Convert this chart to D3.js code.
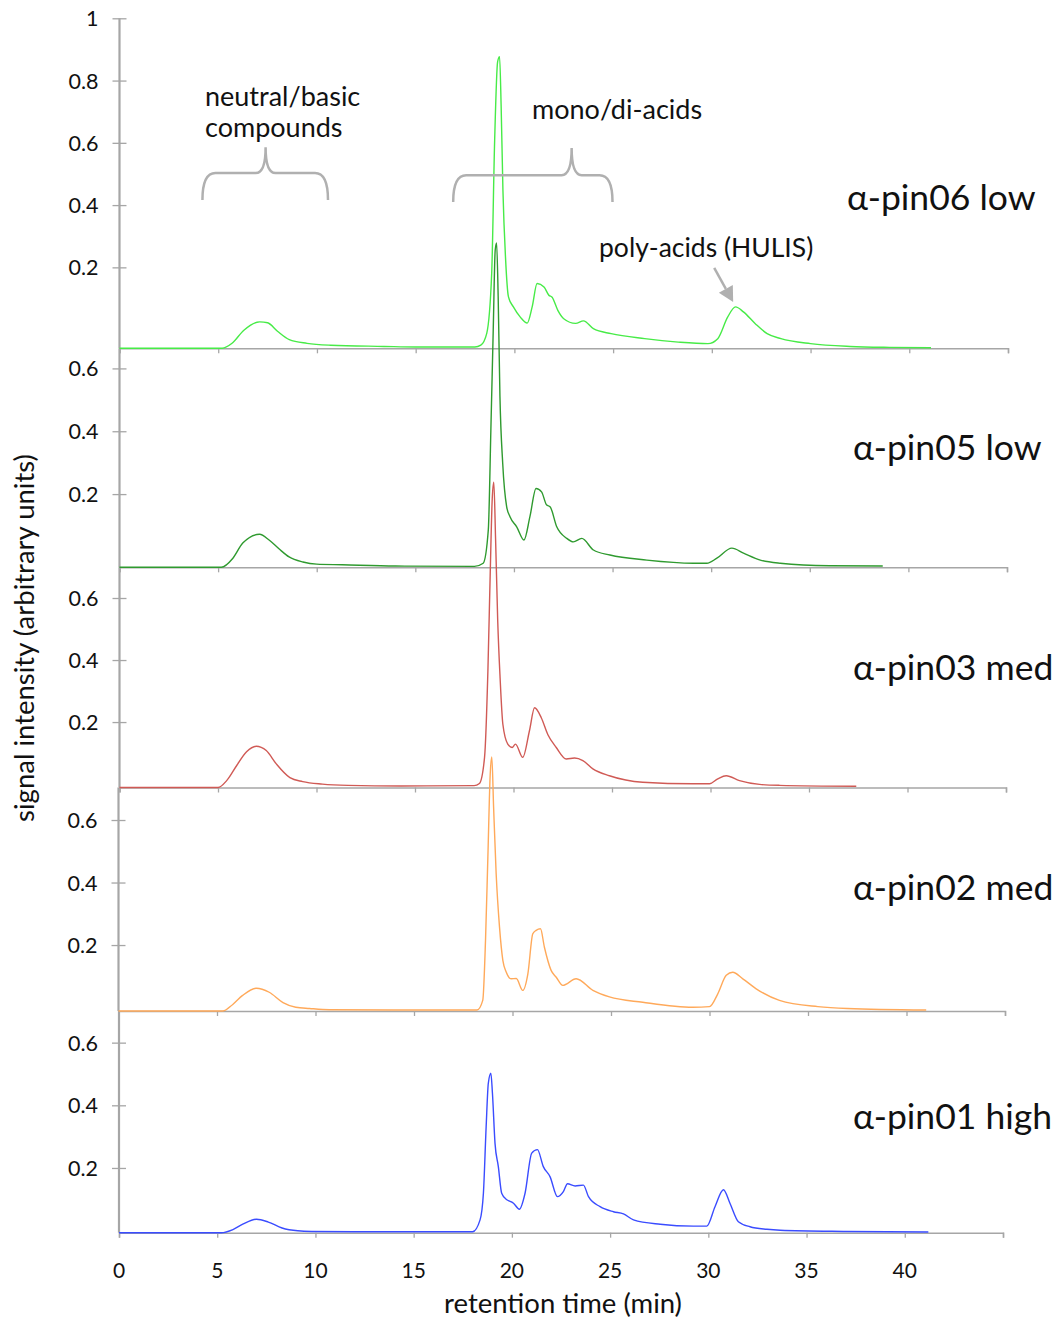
<!DOCTYPE html>
<html>
<head>
<meta charset="utf-8">
<script src="https://cdn.jsdelivr.net/npm/d3@7"></script>
<style>
  body { margin: 0; background: #fff; }
  text { font-family: Lato, "Open Sans", sans-serif; fill: #111; }
</style>
</head>
<body>
<div class="chart-container"></div>
<script>
// retention time (min) and signal above baseline for each sample
var pin06Time = [0, 5.2, 5.7, 6.3, 7.1, 7.5, 8.0, 8.6, 9.5, 10.7, 13.4, 15, 18.0, 18.3, 18.6, 18.85, 19.0, 19.15, 19.25, 19.33, 19.42, 19.55, 19.7, 19.95, 20.3, 20.65, 20.9, 21.15, 21.5, 21.75, 21.9, 22.2, 22.5, 23.1, 23.5, 24.0, 24.9, 26.6, 28.3, 29.8, 30.3, 30.8, 31.2, 31.6, 32.2, 32.8, 33.5, 35, 37, 39, 41.1];
var pin06Signal = [0, 0, 0.016, 0.058, 0.085, 0.082, 0.055, 0.028, 0.016, 0.01, 0.006, 0.004, 0.004, 0.01, 0.048, 0.24, 0.667, 0.92, 0.937, 0.775, 0.507, 0.292, 0.165, 0.133, 0.10, 0.081, 0.133, 0.208, 0.197, 0.17, 0.165, 0.122, 0.095, 0.08, 0.088, 0.063, 0.047, 0.031, 0.02, 0.015, 0.031, 0.10, 0.133, 0.117, 0.079, 0.047, 0.031, 0.015, 0.006, 0.003, 0.002];

var pin05Time = [0, 5.16, 5.75, 6.25, 7.1, 7.6, 8.1, 8.6, 9.3, 10.0, 11.3, 14.0, 18.0, 18.44, 18.7, 18.83, 18.95, 19.05, 19.12, 19.2, 19.29, 19.43, 19.63, 19.8, 20.14, 20.51, 20.81, 21.12, 21.4, 21.66, 21.83, 22.17, 22.68, 23.01, 23.44, 24.03, 24.87, 26.74, 29.1, 29.78, 30.29, 31.05, 31.64, 32.49, 33.5, 36, 38.7];
var pin05Signal = [0, 0, 0.029, 0.077, 0.105, 0.086, 0.058, 0.033, 0.017, 0.01, 0.008, 0.004, 0.003, 0.013, 0.119, 0.437, 0.756, 1.01, 1.032, 0.862, 0.544, 0.331, 0.193, 0.161, 0.129, 0.087, 0.161, 0.251, 0.24, 0.198, 0.193, 0.129, 0.092, 0.081, 0.092, 0.055, 0.039, 0.023, 0.013, 0.013, 0.029, 0.061, 0.045, 0.023, 0.013, 0.005, 0.004];

var pin03Time = [0, 5.0, 5.45, 5.95, 6.45, 6.94, 7.45, 7.95, 8.65, 9.3, 10.3, 11.6, 14.3, 18.0, 18.27, 18.53, 18.7, 18.82, 18.92, 19.0, 19.09, 19.2, 19.32, 19.46, 19.71, 19.93, 20.1, 20.47, 20.81, 21.07, 21.41, 21.74, 22.17, 22.68, 23.1, 23.52, 24.03, 24.87, 26.56, 29.1, 29.95, 30.37, 30.8, 31.47, 32.49, 33.5, 37.4];
var pin03Signal = [0, 0, 0.023, 0.071, 0.115, 0.133, 0.119, 0.077, 0.032, 0.019, 0.011, 0.007, 0.005, 0.006, 0.013, 0.097, 0.375, 0.696, 0.93, 0.984, 0.802, 0.535, 0.353, 0.204, 0.14, 0.129, 0.14, 0.097, 0.183, 0.257, 0.225, 0.171, 0.129, 0.092, 0.095, 0.087, 0.06, 0.038, 0.017, 0.012, 0.012, 0.028, 0.038, 0.022, 0.01, 0.007, 0.004];

var pin02Time = [0, 5.3, 5.8, 6.3, 7.0, 7.65, 8.35, 9.0, 9.7, 10.7, 14.0, 18.2, 18.49, 18.63, 18.75, 18.87, 18.95, 19.04, 19.17, 19.34, 19.51, 19.68, 19.93, 20.19, 20.52, 20.78, 21.03, 21.2, 21.42, 21.62, 21.96, 22.22, 22.55, 23.23, 24.08, 24.92, 26.61, 29.15, 30.0, 30.42, 30.85, 31.18, 31.69, 32.37, 33.55, 35.5, 37, 41];
var pin02Signal = [0, 0, 0.021, 0.05, 0.073, 0.06, 0.027, 0.012, 0.008, 0.004, 0.003, 0.003, 0.034, 0.226, 0.493, 0.76, 0.813, 0.653, 0.44, 0.269, 0.162, 0.125, 0.103, 0.104, 0.066, 0.119, 0.247, 0.258, 0.263, 0.204, 0.13, 0.108, 0.082, 0.103, 0.066, 0.045, 0.028, 0.012, 0.014, 0.055, 0.114, 0.124, 0.103, 0.071, 0.034, 0.014, 0.008, 0.003];

var pin01Time = [0, 5.2, 5.8, 6.3, 7.0, 7.6, 8.3, 9.1, 9.8, 12, 18.0, 18.38, 18.55, 18.69, 18.8, 18.93, 19.01, 19.14, 19.31, 19.48, 19.74, 19.91, 20.08, 20.38, 20.67, 21.01, 21.3, 21.6, 21.94, 22.32, 22.62, 22.83, 23.22, 23.64, 23.9, 24.49, 25.17, 25.68, 26.19, 27.55, 29.24, 29.92, 30.34, 30.77, 31.1, 31.53, 32.12, 32.98, 33.66, 37, 41.2];
var pin01Signal = [0, 0, 0.01, 0.027, 0.043, 0.034, 0.015, 0.006, 0.004, 0.003, 0.003, 0.041, 0.126, 0.339, 0.477, 0.509, 0.445, 0.286, 0.211, 0.126, 0.105, 0.1, 0.094, 0.075, 0.126, 0.254, 0.265, 0.211, 0.179, 0.115, 0.131, 0.156, 0.149, 0.152, 0.115, 0.083, 0.067, 0.06, 0.041, 0.027, 0.021, 0.021, 0.083, 0.137, 0.094, 0.035, 0.019, 0.011, 0.008, 0.004, 0.002];

var sampleNames = ['α-pin06 low', 'α-pin05 low', 'α-pin03 med', 'α-pin02 med', 'α-pin01 high'];
var sampleColors = ['#47eb47', '#2f9a2f', '#d05a55', '#ffa95a', '#3a4cff'];
var sampleTimes = [pin06Time, pin05Time, pin03Time, pin02Time, pin01Time];
var sampleSignals = [pin06Signal, pin05Signal, pin03Signal, pin02Signal, pin01Signal];

var topTicks = [0.2, 0.4, 0.6, 0.8, 1];
var lowerTicks = [0.2, 0.4, 0.6];
var timeTicks = [0, 5, 10, 15, 20, 25, 30, 35, 40, 45];
var timeLabels = [0, 5, 10, 15, 20, 25, 30, 35, 40];

// panel layout (pixels) and the value where each panel's x axis crosses
var panelBase = [348.3, 567.3, 787.5, 1011, 1232.7];
var panelTop = [18.3, 348.3, 567.3, 787.5, 1011];
var panelLo = [-0.06, -0.033, -0.011, -0.011, -0.0066];
var panelHi = [1, 0.664, 0.699, 0.704, 0.701];
var panelLeft = [119.5, 119.5, 119.5, 118.5, 119];
var panelRight = [1008, 1007, 1006, 1005, 1003];
var labelY = [210, 460, 680, 900, 1129];
var labelX = [847, 853, 853, 853, 853];

var chart_width = 1061;
var chart_height = 1320;
var gray = '#a6a6a6';

var svg = d3.select('.chart-container')
  .append('svg')
  .attr('width', chart_width)
  .attr('height', chart_height);

var axesLayer = svg.append('g');
var lineLayer = svg.append('g');

var scales = [];

sampleNames.forEach(function (name, i) {
  var x = d3.scaleLinear().domain([0, 45]).range([panelLeft[i], panelRight[i]]);
  var y = d3.scaleLinear().domain([panelLo[i], panelHi[i]]).range([panelBase[i], panelTop[i]]);
  scales.push({ x: x, y: y });

  // x axis of the panel
  var xAxis = d3.axisBottom(x)
    .tickValues(timeTicks)
    .tickSize(5)
    .tickFormat('');
  var gx = axesLayer.append('g')
    .attr('transform', 'translate(0,' + y(panelLo[i]) + ')')
    .call(xAxis);
  gx.select('.domain').attr('stroke', gray).attr('stroke-width', 1.5);
  gx.selectAll('.tick line').attr('stroke', gray).attr('stroke-width', 1.3);

  // y axis of the panel, ticks cross the line
  var yAxis = d3.axisLeft(y)
    .tickValues(i === 0 ? topTicks : lowerTicks)
    .tickSize(8)
    .tickPadding(0)
    .tickFormat(function (d) { return d; });
  var gy = axesLayer.append('g')
    .attr('transform', 'translate(' + x(0) + ',0)')
    .call(yAxis);
  gy.select('.domain').attr('stroke', gray).attr('stroke-width', 2.2)
    .attr('d', 'M0,' + panelTop[i] + 'V' + panelBase[i]);
  gy.selectAll('.tick line').attr('stroke', gray).attr('stroke-width', 1.3).attr('x1', 7).attr('x2', -7);
  gy.selectAll('.tick text')
    .attr('x', -21)
    .attr('dy', '0.35em')
    .style('font-size', '21.5px')
    .style('font-family', 'Lato, sans-serif')
    .attr('fill', '#111');

  // sample name
  svg.append('text')
    .attr('x', labelX[i])
    .attr('y', labelY[i])
    .style('font-size', '35.5px')
    .text(name);
});

// traces, drawn top panel first
sampleNames.forEach(function (name, i) {
  var s = scales[i];
  var pts = sampleTimes[i].map(function (t, j) { return [t, sampleSignals[i][j]]; });
  var line = d3.line()
    .x(function (d) { return s.x(d[0]); })
    .y(function (d) { return s.y(panelLo[i] + d[1]); })
    .curve(d3.curveMonotoneX);
  lineLayer.append('path')
    .datum(pts)
    .attr('d', line)
    .attr('fill', 'none')
    .attr('stroke', sampleColors[i])
    .attr('stroke-width', 1.4);
});

// bottom x tick labels
var xb = scales[4].x;
svg.append('g').selectAll('text')
  .data(timeLabels)
  .enter()
  .append('text')
  .attr('x', function (d) { return xb(d); })
  .attr('y', 1278)
  .attr('text-anchor', 'middle')
  .style('font-size', '21px')
  .text(function (d) { return d; });

// axis titles
svg.append('text')
  .attr('x', 563)
  .attr('y', 1313)
  .attr('text-anchor', 'middle')
  .style('font-size', '27.5px')
  .text('retention time (min)');

svg.append('text')
  .attr('transform', 'translate(34,638) rotate(-90)')
  .attr('text-anchor', 'middle')
  .style('font-size', '27.5px')
  .text('signal intensity (arbitrary units)');

// annotations in the top panel's coordinates
var ax = scales[0].x, ay = scales[0].y;
var braces = [
  { left: 4.2, mid: 7.4, right: 10.56, end: 0.416, bar: 0.503, tip: 0.586 },
  { left: 16.9, mid: 22.9, right: 24.97, end: 0.41, bar: 0.496, tip: 0.583 }
];
braces.forEach(function (b) {
  var xl = ax(b.left), xm = ax(b.mid), xr = ax(b.right);
  var ye = ay(b.end), yb = ay(b.bar), yt = ay(b.tip);
  var p = d3.path();
  p.moveTo(xl, ye);
  p.quadraticCurveTo(xl, yb, xl + 13, yb);
  p.lineTo(xm - 10, yb);
  p.quadraticCurveTo(xm, yb, xm, yt);
  p.quadraticCurveTo(xm, yb, xm + 10, yb);
  p.lineTo(xr - 13, yb);
  p.quadraticCurveTo(xr, yb, xr, ye);
  svg.append('path')
    .attr('d', p.toString())
    .attr('fill', 'none')
    .attr('stroke', '#b0b0b0')
    .attr('stroke-width', 2.5);
});

svg.append('text').attr('x', 205).attr('y', 106).style('font-size', '27px').text('neutral/basic');
svg.append('text').attr('x', 205).attr('y', 137).style('font-size', '27px').text('compounds');
svg.append('text').attr('x', 532).attr('y', 119).style('font-size', '27px').text('mono/di-acids');
svg.append('text').attr('x', 599).attr('y', 257).style('font-size', '26.5px').text('poly-acids (HULIS)');

// arrow to the HULIS peak
var a0 = [ax(30.12), ay(0.198)];
var a1 = [ax(31.08), ay(0.089)];
var ang = Math.atan2(a1[1] - a0[1], a1[0] - a0[0]);
var headLen = 15, headW = 8;
var base = [a1[0] - headLen * Math.cos(ang), a1[1] - headLen * Math.sin(ang)];
svg.append('line')
  .attr('x1', a0[0]).attr('y1', a0[1])
  .attr('x2', base[0]).attr('y2', base[1])
  .attr('stroke', '#b0b0b0')
  .attr('stroke-width', 2.5);
svg.append('path')
  .attr('d', 'M' + a1[0] + ',' + a1[1] +
    'L' + (base[0] + headW * Math.sin(ang)) + ',' + (base[1] - headW * Math.cos(ang)) +
    'L' + (base[0] - headW * Math.sin(ang)) + ',' + (base[1] + headW * Math.cos(ang)) + 'Z')
  .attr('fill', '#b0b0b0');
</script>
</body>
</html>
